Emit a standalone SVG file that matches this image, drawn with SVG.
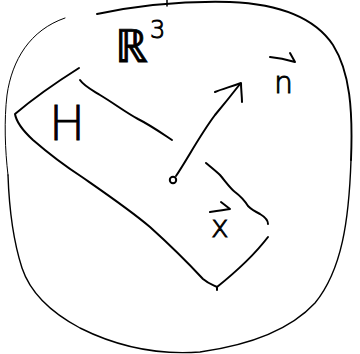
<svg xmlns="http://www.w3.org/2000/svg" width="360" height="354" viewBox="0 0 360 354">
<style>
.ln{fill:none;stroke:#000;stroke-linecap:round;stroke-linejoin:round}
.t{font-family:"DejaVu Sans","Liberation Sans",sans-serif;font-weight:200;fill:#000;stroke:#000;stroke-width:0.9}
</style>
<rect width="360" height="354" fill="#fff"/>
<g id="space">
<path class="ln" stroke-width="1.9" d="M97,14 C140,5 190,1 230,2 C280,4 315,18 333,45 C350,72 353,110 351,160"/>
<path class="ln" stroke-width="1.4" d="M351,160 C349,220 342,270 315,303 C290,330 250,345 200,352 C160,355 120,348 80,328 C50,312 30,292 22,268 C13,240 9,205 8,175"/>
<path class="ln" stroke-width="1" d="M8,175 C5,150 4,120 7,95 C12,60 30,30 65,18"/>
<path class="ln" stroke-width="1.5" d="M167,0 L167,6"/>
<text class="t" x="115" y="62" font-size="46">ℝ</text>
<text class="t" x="150" y="38" font-size="24">3</text>
</g>
<g id="plane">
<path class="ln" stroke-width="2" d="M79,68 C60,80 35,97 15,114 C16,120 20,128 33,140 C48,153 65,166 82,177 C105,193 130,210 150,227 C170,245 190,265 203,279 C209,284 213,285 217,287 L217,290"/>
<path class="ln" stroke-width="2" d="M217,287 C232,275 252,258 268,237"/>
<path class="ln" stroke-width="2" d="M80,80 C84,86 92,90 100,95 C115,104 125,112 138,119 C150,125 160,132 172,140"/>
<path class="ln" stroke-width="2" d="M206,163 C212,168 217,172 220,175 C226,182 230,188 235,192 C239,195 243,198 248,206 C252,210 256,212 260,214 C265,217 268,220 268,224"/>
<text class="t" x="67" y="140" font-size="48" text-anchor="middle">H</text>
</g>
<g id="point">
<circle cx="173" cy="180" r="3.2" fill="none" stroke="#000" stroke-width="2"/>
</g>
<g id="connectors">
<path class="ln" stroke-width="2" d="M176,176 C188,158 200,135 215,115 C225,103 233,93 240,84"/>
<path class="ln" stroke-width="2" d="M215,92 C222,89 230,87 241,83 C241,90 242,96 242,102"/>
</g>
<g id="labels">
<path class="ln" stroke-width="2" d="M270,57 C280,58 288,60 295,62 M290,53 L295,62"/>
<text class="t" x="274" y="93" font-size="30">n</text>
<path class="ln" stroke-width="2" d="M210,212 C217,211 224,210 230,209 M221,202 L230,209"/>
<text class="t" x="211" y="237" font-size="30">x</text>
</g>
</svg>
